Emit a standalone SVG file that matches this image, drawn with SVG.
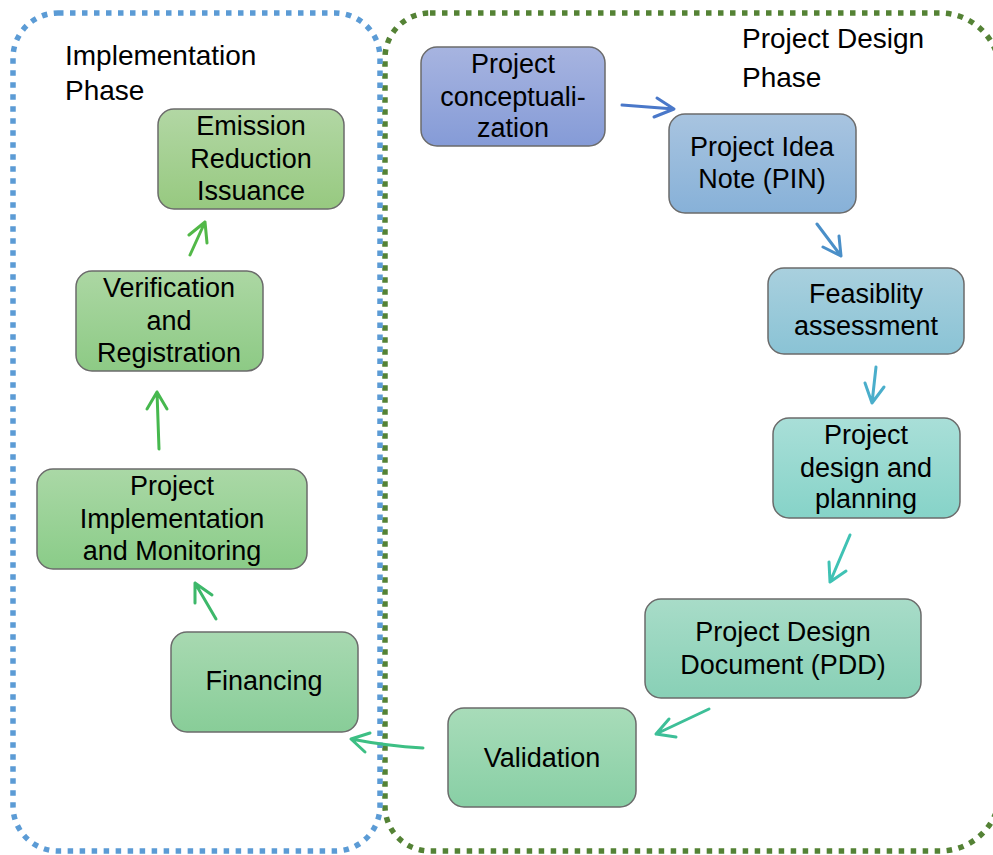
<svg xmlns="http://www.w3.org/2000/svg" width="993" height="855" viewBox="0 0 993 855">
<style>
.t{font-family:"Liberation Sans",Arial,sans-serif;font-size:27px;fill:#000;text-anchor:middle}
.h{font-family:"Liberation Sans",Arial,sans-serif;font-size:28px;fill:#000}
.box{stroke:#6b6b6b;stroke-width:1.5}
.c{fill:none;stroke-width:3;stroke-linecap:round;stroke-linejoin:round}
.phase{fill:none;stroke-width:5.5;stroke-dasharray:5.5 6.5}
</style>
<defs>
<linearGradient id="g1" x1="0" y1="0" x2="0" y2="1"><stop offset="0" stop-color="#a7b4e0"/><stop offset="1" stop-color="#859bd7"/></linearGradient>
<linearGradient id="g2" x1="0" y1="0" x2="0" y2="1"><stop offset="0" stop-color="#a8c4e0"/><stop offset="1" stop-color="#87b1d8"/></linearGradient>
<linearGradient id="g3" x1="0" y1="0" x2="0" y2="1"><stop offset="0" stop-color="#a9d0de"/><stop offset="1" stop-color="#8ac3d5"/></linearGradient>
<linearGradient id="g4" x1="0" y1="0" x2="0" y2="1"><stop offset="0" stop-color="#a9dfd8"/><stop offset="1" stop-color="#86d3c8"/></linearGradient>
<linearGradient id="g5" x1="0" y1="0" x2="0" y2="1"><stop offset="0" stop-color="#a8dcc8"/><stop offset="1" stop-color="#88d0b6"/></linearGradient>
<linearGradient id="g6" x1="0" y1="0" x2="0" y2="1"><stop offset="0" stop-color="#a8dcb9"/><stop offset="1" stop-color="#88cfa5"/></linearGradient>
<linearGradient id="g7" x1="0" y1="0" x2="0" y2="1"><stop offset="0" stop-color="#a8d9b1"/><stop offset="1" stop-color="#88cd98"/></linearGradient>
<linearGradient id="g8" x1="0" y1="0" x2="0" y2="1"><stop offset="0" stop-color="#aad8a6"/><stop offset="1" stop-color="#8acc88"/></linearGradient>
<linearGradient id="g9" x1="0" y1="0" x2="0" y2="1"><stop offset="0" stop-color="#acd7a3"/><stop offset="1" stop-color="#8dca85"/></linearGradient>
<linearGradient id="g10" x1="0" y1="0" x2="0" y2="1"><stop offset="0" stop-color="#b2d7a4"/><stop offset="1" stop-color="#97c980"/></linearGradient>
</defs>

<g id="phases">
<path id="design-phase-border" class="phase" stroke="#548235" d="M430,13 H940 A60 60 0 0 1 1000,73 V791 A60 60 0 0 1 940,851 H430 A45 45 0 0 1 385,806 V58 A45 45 0 0 1 430,13 Z"/>
<rect id="impl-phase-border" class="phase" stroke="#5b9bd5" x="13" y="13" width="367" height="838" rx="45"/>
<text class="h" x="65" y="65">Implementation</text>
<text class="h" x="65" y="100">Phase</text>
<text class="h" x="742" y="48">Project Design</text>
<text class="h" x="742" y="87">Phase</text>
</g>

<g id="n-concept">
<rect class="box" fill="url(#g1)" x="421" y="47" width="184" height="99" rx="16"/>
<text class="t" x="513" y="73">Project</text>
<text class="t" x="513" y="106">conceptuali-</text>
<text class="t" x="513" y="137">zation</text>
</g>
<g id="n-pin">
<rect class="box" fill="url(#g2)" x="669" y="114" width="187" height="99" rx="16"/>
<text class="t" x="762" y="156">Project Idea</text>
<text class="t" x="762" y="188">Note (PIN)</text>
</g>
<g id="n-feas">
<rect class="box" fill="url(#g3)" x="768" y="268" width="196" height="86" rx="16"/>
<text class="t" x="866" y="303">Feasiblity</text>
<text class="t" x="866" y="335">assessment</text>
</g>
<g id="n-design">
<rect class="box" fill="url(#g4)" x="773" y="418" width="187" height="100" rx="16"/>
<text class="t" x="866" y="444">Project</text>
<text class="t" x="866" y="477">design and</text>
<text class="t" x="866" y="508">planning</text>
</g>
<g id="n-pdd">
<rect class="box" fill="url(#g5)" x="645" y="599" width="276" height="99" rx="16"/>
<text class="t" x="783" y="641">Project Design</text>
<text class="t" x="783" y="674">Document (PDD)</text>
</g>
<g id="n-valid">
<rect class="box" fill="url(#g6)" x="448" y="708" width="188" height="99" rx="16"/>
<text class="t" x="542" y="767">Validation</text>
</g>
<g id="n-fin">
<rect class="box" fill="url(#g7)" x="171" y="632" width="187" height="100" rx="16"/>
<text class="t" x="264" y="690">Financing</text>
</g>
<g id="n-impl">
<rect class="box" fill="url(#g8)" x="37" y="469" width="270" height="100" rx="16"/>
<text class="t" x="172" y="495">Project</text>
<text class="t" x="172" y="528">Implementation</text>
<text class="t" x="172" y="560">and Monitoring</text>
</g>
<g id="n-verif">
<rect class="box" fill="url(#g9)" x="76" y="271" width="187" height="100" rx="16"/>
<text class="t" x="169" y="297">Verification</text>
<text class="t" x="169" y="330">and</text>
<text class="t" x="169" y="362">Registration</text>
</g>
<g id="n-emission">
<rect class="box" fill="url(#g10)" x="158" y="109" width="186" height="100" rx="16"/>
<text class="t" x="251" y="135">Emission</text>
<text class="t" x="251" y="168">Reduction</text>
<text class="t" x="251" y="200">Issuance</text>
</g>

<g id="connectors">
<path class="c" stroke="#4a78c9" d="M622,105 L674,109 M657,98 L674,109 L654,117"/>
<path class="c" stroke="#4a8fc8" d="M817,224 L841,256 M839,236 L841,256 L823,247"/>
<path class="c" stroke="#4aaecb" d="M876,367 L872,403 M865,383 L872,403 L884,387"/>
<path class="c" stroke="#3fc2b4" d="M850,535 L830,582 M829,562 L830,582 L846,571"/>
<path class="c" stroke="#3dbf98" d="M709,709 L656,734 M669,719 L656,734 L676,737"/>
<path class="c" stroke="#3dbf84" d="M423,748 Q387,746 351,739 M370,733 L351,739 L365,752"/>
<path class="c" stroke="#3db86a" d="M216,619 L195,583 M195,603 L195,583 L212,595"/>
<path class="c" stroke="#46b84e" d="M159,449 L157,392 M147,409 L157,392 L167,409"/>
<path class="c" stroke="#52b848" d="M190,255 L205,222 M189,235 L205,222 L207,243"/>
</g>
</svg>
